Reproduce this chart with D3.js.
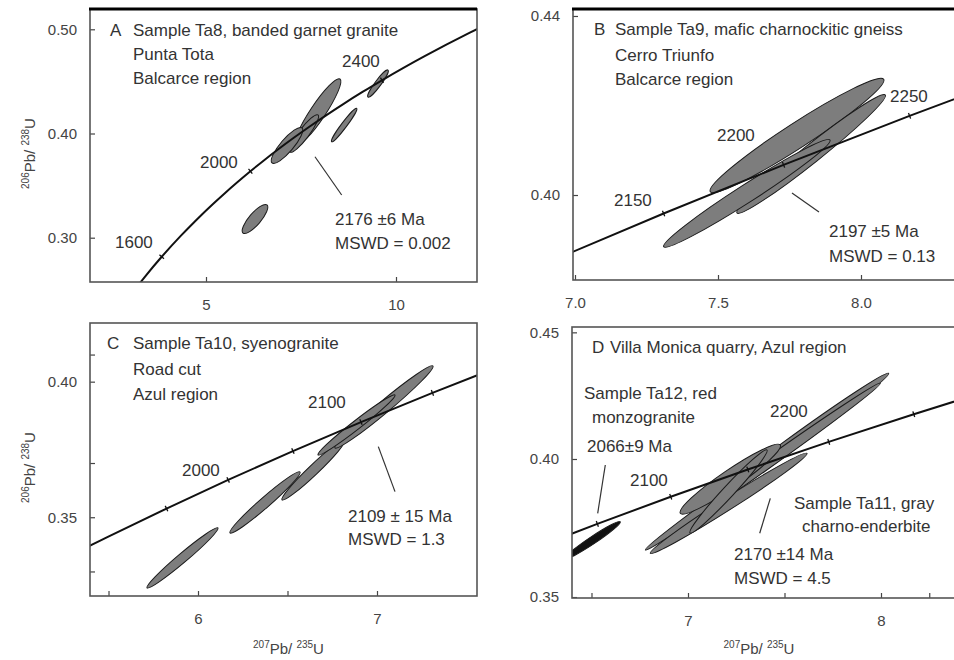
<!DOCTYPE html>
<html>
<head>
<meta charset="utf-8">
<script src="https://cdn.jsdelivr.net/npm/d3@7"></script>
<style>
  body { margin: 0; background: #fff; }
  svg { display: block; font-family: "Liberation Sans", Arial, sans-serif; }
</style>
</head>
<body>
<svg id="fig" width="954" height="660"></svg>
<script>
// Concordia table (age in Ma, 207Pb/235U, 206Pb/238U)
const concAge = [1300, 1400, 1500, 1600, 1700, 1800, 1850, 1900, 1950, 2000, 2050,
                 2100, 2150, 2200, 2250, 2300, 2350, 2400, 2500, 2600, 2700];
const concX = [2.5977, 2.9701, 3.3810, 3.8344, 4.3348, 4.8869, 5.1840, 5.4962, 5.8241,
               6.1685, 6.5303, 6.9105, 7.3098, 7.7292, 8.1698, 8.6326, 9.1188, 9.6296,
               10.7297, 11.9437, 13.2834];
const concY = [0.22343, 0.24256, 0.26199, 0.28172, 0.30175, 0.32210, 0.33240, 0.34277,
               0.35320, 0.36377, 0.37439, 0.38509, 0.39587, 0.40674, 0.41769, 0.42873,
               0.43985, 0.45107, 0.47375, 0.49679, 0.52019];

// Age marks along the concordia, per panel
const agesA = [1600, 2000, 2400];
const agesB = [2150, 2200, 2250];
const agesC = [1950, 2000, 2050, 2100, 2150];
const agesD = [2050, 2100, 2150, 2200, 2250];

// Error ellipses: major axis tips (x1,y1)-(x2,y2) and minor/major ratio w
const ellA = [
  { x1: 8.526, y1: 0.4523, x2: 7.368, y2: 0.3890, w: 0.19 },
  { x1: 7.947, y1: 0.4178, x2: 7.210, y2: 0.3822, w: 0.22 },
  { x1: 7.526, y1: 0.4053, x2: 6.737, y2: 0.3717, w: 0.28 },
  { x1: 8.966, y1: 0.4242, x2: 8.305, y2: 0.3921, w: 0.13 },
  { x1: 9.789, y1: 0.4609, x2: 9.263, y2: 0.4350, w: 0.18 },
  { x1: 6.605, y1: 0.3314, x2: 5.973, y2: 0.3045, w: 0.32 }
];
const ellB = [
  { x1: 8.0794, y1: 0.42586, x2: 7.4731, y2: 0.40074, w: 0.12 },
  { x1: 8.0850, y1: 0.42235, x2: 7.5664, y2: 0.39598, w: 0.095 },
  { x1: 7.8916, y1: 0.41229, x2: 7.3101, y2: 0.38845, w: 0.09 }
];
const ellC = [
  { x1: 6.1117, y1: 0.34605, x2: 5.7151, y2: 0.32393, w: 0.10 },
  { x1: 6.5698, y1: 0.36670, x2: 6.1788, y2: 0.34421, w: 0.11 },
  { x1: 6.8212, y1: 0.37850, x2: 6.4693, y2: 0.35638, w: 0.115 },
  { x1: 7.3128, y1: 0.40579, x2: 6.7654, y2: 0.37555, w: 0.094 },
  { x1: 7.1006, y1: 0.39510, x2: 6.6704, y2: 0.37297, w: 0.09 }
];
const ellD = [
  { x1: 8.0399, y1: 0.43383, x2: 6.9948, y2: 0.37592, w: 0.05 },
  { x1: 7.9964, y1: 0.42989, x2: 6.7788, y2: 0.36407, w: 0.035 },
  { x1: 7.4782, y1: 0.40553, x2: 6.9601, y2: 0.37856, w: 0.15 },
  { x1: 7.6166, y1: 0.40225, x2: 6.8047, y2: 0.36277, w: 0.065 },
  { x1: 7.4093, y1: 0.40355, x2: 7.0104, y2: 0.37079, w: 0.10 }
];
const ellD12 = [
  { x1: 6.3600, y1: 0.36050, x2: 6.6492, y2: 0.37525, w: 0.11 }
];

// Leader lines from the age text to the intercept (data units)
const leadA = [[7.868, 0.3777, 8.571, 0.3410]];
const leadB = [[7.7587, 0.40045, 7.8531, 0.39620]];
const leadC = [[7.0073, 0.37603, 7.1006, 0.35944]];
const leadD = [[6.5715, 0.39763, 6.5321, 0.37856], [7.4264, 0.38448, 7.3715, 0.37067]];

// Axis ticks
const xTicksA = [5, 10],            yTicksA = [0.30, 0.40, 0.50];
const xTicksB = [7.0, 7.5, 8.0],    yTicksB = [0.40, 0.44];
const xTicksC = [5.5, 6, 6.5, 7],   yTicksC = [0.33, 0.35, 0.37, 0.40, 0.41];
const xTicksD = [6.5, 7, 7.5, 8, 8.25], yTicksD = [0.3455, 0.40, 0.45];

// Texts (x, baseline y in page pixels)
const textA = [
  ["A", 110, 36], ["Sample Ta8, banded garnet granite", 133, 36], ["Punta Tota", 133, 60],
  ["Balcarce region", 133, 84], ["2400", 342, 67], ["2000", 200, 168], ["1600", 115, 248],
  ["2176  \u00b16 Ma", 335, 225], ["MSWD = 0.002", 335, 249]
];
const textB = [
  ["B", 594, 35], ["Sample Ta9, mafic charnockitic gneiss", 615, 35], ["Cerro Triunfo", 615, 61],
  ["Balcarce region", 615, 85], ["2250", 890, 102], ["2200", 717, 141], ["2150", 614, 206],
  ["2197 \u00b15 Ma", 829, 237], ["MSWD = 0.13", 829, 262]
];
const textC = [
  ["C", 107, 349], ["Sample Ta10, syenogranite", 133, 349], ["Road cut", 133, 375],
  ["Azul region", 133, 400], ["2100", 308, 408], ["2000", 182, 476],
  ["2109 \u00b1 15 Ma", 348, 522], ["MSWD = 1.3", 348, 545]
];
const textD = [
  ["D", 592, 353], ["Villa Monica quarry, Azul region", 610, 353],
  ["Sample Ta12, red", 584, 399], ["monzogranite", 592, 423], ["2066\u00b19 Ma", 587, 452],
  ["2100", 630, 486], ["2200", 770, 417], ["Sample Ta11, gray", 794, 509],
  ["charno-enderbite", 802, 532], ["2170  \u00b114 Ma", 734, 560], ["MSWD = 4.5", 734, 584]
];

const panels = [
  { key: "A", box: [90, 9, 477, 282], xd: [1.9474, 12.1316], yd: [0.25749, 0.51948],
    xt: xTicksA, yt: yTicksA, xf: d3.format("d"), yf: d3.format(".2f"),
    ages: agesA, ell: ellA, lead: leadA, text: textA, thickTop: true, yTitle: true },
  { key: "B", box: [573, 9, 955, 280], xd: [6.993, 8.3287], yd: [0.38101, 0.44156],
    xt: xTicksB, yt: yTicksB, xf: d3.format(".1f"), yf: d3.format(".2f"),
    ages: agesB, ell: ellB, lead: leadB, text: textB, thickTop: true },
  { key: "C", box: [90, 323, 477, 596], xd: [5.3966, 7.5587], yd: [0.32095, 0.42164],
    xt: xTicksC, yt: yTicksC, xf: d => Number.isInteger(d) ? d : "",
    yf: d => (d === 0.35 || d === 0.40) ? d3.format(".2f")(d) : "",
    ages: agesC, ell: ellC, lead: leadC, text: textC, yTitle: true, xTitle: true },
  { key: "D", box: [572, 327, 955, 598], xd: [6.399, 8.3834], yd: [0.34512, 0.45211],
    xt: xTicksD, yt: yTicksD, xf: d => Number.isInteger(d) ? d : "", yf: d3.format(".2f"),
    ages: agesD, ell: ellD, ell12: ellD12, lead: leadD, text: textD, xTitle: true }
];

const svg = d3.select("#fig");
const conc = concAge.map((a, i) => ({ age: a, x: concX[i], y: concY[i] }));

panels.forEach(p => {
  const [l, t, r, b] = p.box;
  const x = d3.scaleLinear().domain(p.xd).range([l, r]);
  const y = d3.scaleLinear().domain(p.yd).range([b, t]);
  const g = svg.append("g");

  const clipId = "clip" + p.key;
  svg.append("clipPath").attr("id", clipId)
    .append("rect").attr("x", l).attr("y", t).attr("width", r - l).attr("height", b - t);
  const plot = g.append("g").attr("clip-path", `url(#${clipId})`);

  // ellipses
  const drawEll = (list, fill) => {
    plot.append("g").selectAll("ellipse").data(list).join("ellipse")
      .each(function (d) {
        const ax = x(d.x1), ay = y(d.y1), bx = x(d.x2), by = y(d.y2);
        const cx = (ax + bx) / 2, cy = (ay + by) / 2;
        const rx = Math.hypot(bx - ax, by - ay) / 2;
        const ang = Math.atan2(by - ay, bx - ax) * 180 / Math.PI;
        d3.select(this).attr("cx", cx).attr("cy", cy).attr("rx", rx).attr("ry", rx * d.w)
          .attr("transform", `rotate(${ang} ${cx} ${cy})`);
      })
      .attr("fill", fill).attr("stroke", "#1a1a1a").attr("stroke-width", 1);
  };
  drawEll(p.ell, "#7d7d7d");
  if (p.ell12) drawEll(p.ell12, "#111");

  // concordia
  const line = d3.line().x(d => x(d.x)).y(d => y(d.y)).curve(d3.curveCatmullRom);
  plot.append("path").datum(conc).attr("d", line)
    .attr("fill", "none").attr("stroke", "#111").attr("stroke-width", 2);

  // age ticks on concordia
  p.ages.forEach(a => {
    const i = concAge.indexOf(a);
    const px = x(concX[i]), py = y(concY[i]);
    const qx = x(concX[i + 1]) - x(concX[i - 1]), qy = y(concY[i + 1]) - y(concY[i - 1]);
    const n = Math.hypot(qx, qy), nx = -qy / n, ny = qx / n;
    plot.append("line")
      .attr("x1", px - nx * 3).attr("y1", py - ny * 3)
      .attr("x2", px + nx * 3).attr("y2", py + ny * 3)
      .attr("stroke", "#111").attr("stroke-width", 1.3);
  });

  // leader lines
  plot.append("g").selectAll("line").data(p.lead).join("line")
    .attr("x1", d => x(d[0])).attr("y1", d => y(d[1]))
    .attr("x2", d => x(d[2])).attr("y2", d => y(d[3]))
    .attr("stroke", "#333").attr("stroke-width", 1.2);

  // axes
  const ax = g.append("g").attr("transform", `translate(0,${b})`)
    .call(d3.axisBottom(x).tickValues(p.xt).tickFormat(p.xf).tickSize(-5).tickPadding(17));
  const ay = g.append("g").attr("transform", `translate(${l},0)`)
    .call(d3.axisLeft(y).tickValues(p.yt).tickFormat(p.yf).tickSize(-5).tickPadding(13));
  [ax, ay].forEach(a => {
    a.select(".domain").remove();
    a.selectAll("line").attr("stroke", "#444").attr("stroke-width", 1.2);
    a.selectAll("text").attr("font-size", 15).attr("fill", "#444")
      .attr("font-family", "'Liberation Sans', Arial, sans-serif");
  });

  // frame
  g.append("rect").attr("x", l).attr("y", t).attr("width", r - l).attr("height", b - t)
    .attr("fill", "none").attr("stroke", "#555").attr("stroke-width", 1.6);
  if (p.thickTop) {
    g.append("line").attr("x1", l - 1).attr("x2", r).attr("y1", t).attr("y2", t)
      .attr("stroke", "#000").attr("stroke-width", 3.2);
  }

  // texts
  g.append("g").selectAll("text").data(p.text).join("text")
    .attr("x", d => d[1]).attr("y", d => d[2])
    .attr("font-size", 17).attr("fill", "#333")
    .text(d => d[0]);

  // axis titles
  const title = (sel, a, b2) => {
    sel.append("tspan").attr("font-size", 10).attr("dy", -6).text(a);
    sel.append("tspan").attr("font-size", 15).attr("dy", 6).text("Pb/ ");
    sel.append("tspan").attr("font-size", 10).attr("dy", -6).text(b2);
    sel.append("tspan").attr("font-size", 15).attr("dy", 6).text("U");
  };
  if (p.yTitle) {
    const cy = (t + b) / 2 + 8;
    const tt = g.append("text").attr("text-anchor", "middle").attr("fill", "#444")
      .attr("transform", `translate(35,${cy}) rotate(-90)`);
    title(tt, "206", "238");
  }
  if (p.xTitle) {
    const tt = g.append("text").attr("text-anchor", "middle").attr("fill", "#444")
      .attr("x", (l + Math.min(r, 954)) / 2 + (p.key === "C" ? 5 : -4)).attr("y", 654);
    title(tt, "207", "235");
  }
});
</script>
</body>
</html>
